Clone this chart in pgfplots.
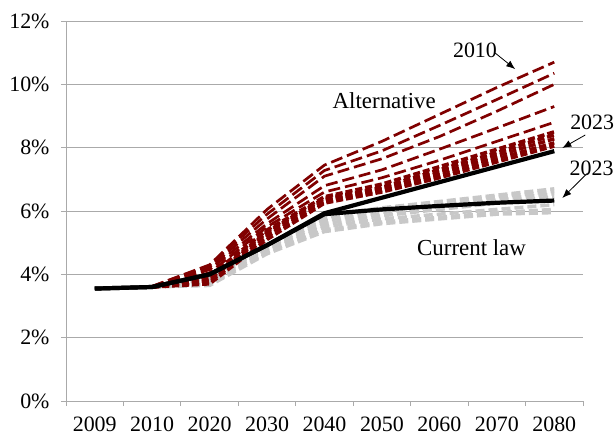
\documentclass[border=0pt]{standalone}
\usepackage{pgfplots}
\pgfplotsset{compat=1.18}
\usepackage{pgfplotstable}
\usetikzlibrary{arrows.meta}
\usepackage{fontspec}
\setmainfont{Liberation Serif}

\definecolor{altred}{RGB}{128,0,0}
\definecolor{clgray}{RGB}{200,200,200}
\definecolor{gridgray}{RGB}{170,170,170}

% alternative-scenario projections, vintages 2010 (r1) ... latest before 2023
\pgfplotstableread{
x  r1    r2    r3    r4    r5    r6    r7    r8    r9    r10
1  3.62  3.62  3.62  3.60  3.60  3.60  3.60  3.60  3.60  3.60
2  4.30  4.28  4.22  4.15  4.05  3.95  3.85  3.80  3.75  3.70
3  6.05  5.90  5.75  5.60  5.50  5.40  5.35  5.30  5.20  5.10
4  7.45  7.28  7.10  6.80  6.60  6.45  6.40  6.35  6.30  6.25
5  8.20  7.90  7.65  7.30  7.05  6.85  6.75  6.70  6.65  6.60
6  9.05  8.70  8.35  7.95  7.60  7.40  7.30  7.20  7.10  7.05
7  9.90  9.52  9.15  8.62  8.20  7.95  7.85  7.75  7.65  7.55
8  10.70 10.35 10.00 9.30  8.80  8.50  8.40  8.28  8.15  8.05
}\alttab

% current-law projections, earlier vintages
\pgfplotstableread{
x  g1    g2    g3    g4    g5    g6    g7
1  3.60  3.60  3.60  3.60  3.60  3.60  3.60
2  3.90  3.85  3.80  3.75  3.70  3.70  3.65
3  4.95  4.90  4.85  4.80  4.75  4.70  4.65
4  5.85  5.80  5.70  5.60  5.50  5.40  5.35
5  6.10  6.05  5.95  5.85  5.75  5.65  5.60
6  6.30  6.25  6.15  6.05  5.90  5.80  5.75
7  6.50  6.45  6.35  6.25  6.05  5.95  5.90
8  6.70  6.62  6.55  6.45  6.20  6.05  5.95
}\cltab

% 2023 vintage: alternative and current law
\pgfplotstableread{
x  alt   cur
0  3.55  3.55
1  3.60  3.60
2  4.00  4.00
3  4.92  4.92
4  5.93  5.90
5  6.42  6.05
6  6.91  6.16
7  7.40  6.26
8  7.89  6.33
}\nowtab

\begin{document}
\begin{tikzpicture}
\begin{axis}[
    scale only axis,
    width=517bp, height=380bp,
    xmin=-0.5, xmax=8.5,
    ymin=0, ymax=12,
    clip=false,
    axis x line*=bottom,
    axis y line*=left,
    axis line style={gridgray, line width=0.8bp},
    xtick={-0.5,0.5,...,8.5},
    xticklabels={2009,2010,2020,2030,2040,2050,2060,2070,2080},
    x tick label as interval,
    ytick={0,2,...,12},
    yticklabel={\pgfmathprintnumber{\tick}\%},
    /pgf/number format/assume math mode=true,
    tick align=outside,
    major tick length=5bp,
    tick style={gridgray, line width=0.8bp},
    ymajorgrids=true,
    grid style={gridgray, line width=0.8bp},
    tick label style={font=\fontsize{22}{26}\selectfont},
    yticklabel style={xshift=-8bp},
    xticklabel style={yshift=-7bp},
]
\foreach \c in {g1,g2,g3,g4,g5,g6,g7} {
  \addplot[clgray, line width=3.5bp, dash pattern=on 9bp off 4bp] table[x=x, y=\c] {\cltab};
}
\foreach \c in {r1,r2,r3,r4,r5} {
  \addplot[altred, line width=2.7bp, dash pattern=on 12bp off 5bp] table[x=x, y=\c] {\alttab};
}
\foreach \c in {r6,r7,r8,r9,r10} {
  \addplot[altred, line width=3.5bp, dash pattern=on 7bp off 3bp] table[x=x, y=\c] {\alttab};
}
\addplot[black, line width=4.2bp] table[x=x, y=cur] {\nowtab};
\addplot[black, line width=4.2bp] table[x=x, y=alt] {\nowtab};

\node[font=\fontsize{23}{27}\selectfont] at (axis cs:5.04,9.47) {Alternative};
\node[font=\fontsize{23}{27}\selectfont] at (axis cs:6.56,4.83) {Current law};
\node[font=\fontsize{22}{26}\selectfont] at (axis cs:6.62,11.08) {2010};
\node[font=\fontsize{22}{26}\selectfont] at (axis cs:8.66,8.81) {2023};
\node[font=\fontsize{22}{26}\selectfont] at (axis cs:8.65,7.36) {2023};
\draw[-{Latex[length=9bp,width=7bp]}, line width=0.8bp] (axis cs:6.97,10.99) -- (axis cs:7.32,10.48);
\draw[-{Latex[length=9bp,width=7bp]}, line width=0.8bp] (axis cs:8.54,8.40) -- (axis cs:8.14,7.99);
\draw[-{Latex[length=9bp,width=7bp]}, line width=0.8bp] (axis cs:8.58,7.20) -- (axis cs:8.14,6.41);
\end{axis}
\pgfresetboundingbox
\path[use as bounding box] (-66bp,-36bp) rectangle (550bp,401bp);
\end{tikzpicture}
\end{document}
